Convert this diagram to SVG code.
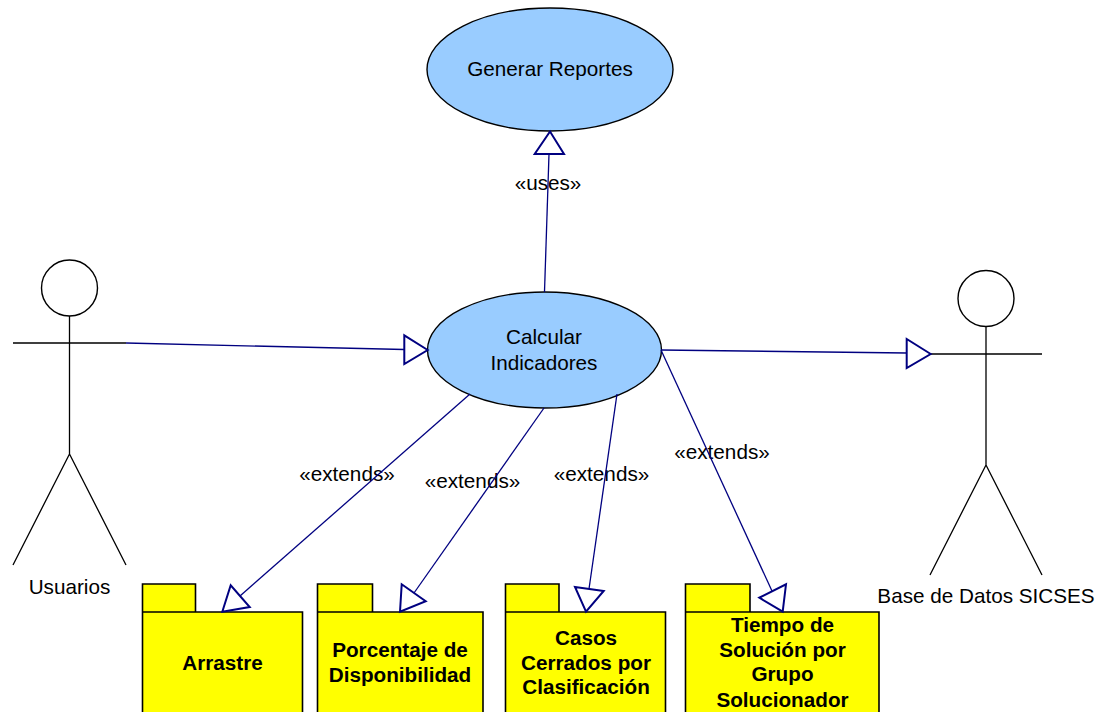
<svg xmlns="http://www.w3.org/2000/svg" width="1105" height="712" viewBox="0 0 1105 712">
<style>
text{font-family:"Liberation Sans",Arial,sans-serif;font-size:20.7px;fill:#000;text-anchor:middle}
.b{font-weight:bold}
.uc{fill:#99ccff;stroke:#000;stroke-width:1.4}
.act{fill:none;stroke:#000;stroke-width:1.3}
.head{fill:#fff;stroke:#000;stroke-width:1.4}
.pk{fill:#ffff00;stroke:none}
.pkl{fill:none;stroke:#000;stroke-width:1.6}
.c{fill:none;stroke:#000080;stroke-width:1.3}
.ah{fill:#fff;stroke:#000080;stroke-width:2}
</style>
<rect width="1105" height="712" fill="#fff"/>
<g id="node-generar"><ellipse class="uc" cx="550" cy="69.5" rx="123" ry="61.5"/><text x="550" y="76">Generar Reportes</text></g>
<g id="node-calcular"><ellipse class="uc" cx="544.5" cy="350" rx="117" ry="58"/><text x="544" y="344">Calcular</text><text x="544" y="370">Indicadores</text></g>
<g id="node-usuarios"><circle class="head" cx="69.5" cy="288" r="28"/><path class="act" d="M69.5 316V454M13 343H126M69.5 454L13 565M69.5 454L126 565"/><text x="69.5" y="594">Usuarios</text></g>
<g id="node-base"><circle class="head" cx="986" cy="298.5" r="28"/><path class="act" d="M986 326V465M930 354H1042M986 465L930 575M986 465L1042 575"/><text x="986" y="603">Base de Datos SICSES</text></g>
<g id="node-arrastre"><rect class="pk" x="142.5" y="584" width="53" height="28"/><rect class="pk" x="142.5" y="612" width="160" height="100"/><path class="pkl" d="M142.5 712V584H195.500V612M142.500 612H302.500V712"/><text class="b" x="222.500" y="670">Arrastre</text></g>
<g id="node-porcentaje"><rect class="pk" x="317.500" y="584" width="55" height="28"/><rect class="pk" x="317.500" y="612" width="165.500" height="100"/><path class="pkl" d="M317.500 712V584H372.500V612M317.500 612H483V712"/><text class="b" x="400" y="657">Porcentaje de</text><text class="b" x="400" y="682">Disponibilidad</text></g>
<g id="node-casos"><rect class="pk" x="505.500" y="584" width="53.500" height="28"/><rect class="pk" x="505.500" y="612" width="160" height="100"/><path class="pkl" d="M505.500 712V584H559V612M505.500 612H665.500V712"/><text class="b" x="586" y="645">Casos</text><text class="b" x="586" y="670">Cerrados por</text><text class="b" x="586" y="694">Clasificación</text></g>
<g id="node-tiempo"><rect class="pk" x="685.500" y="584" width="64.500" height="28"/><rect class="pk" x="685.500" y="612" width="193.500" height="100"/><path class="pkl" d="M685.500 712V584H750V612M685.500 612H879V712"/><text class="b" x="782.500" y="632">Tiempo de</text><text class="b" x="782.500" y="657">Solución por</text><text class="b" x="782.500" y="681">Grupo</text><text class="b" x="782.500" y="707">Solucionador</text></g>
<g id="labels"><text x="548" y="190">«uses»</text><text x="347" y="481">«extends»</text><text x="472.500" y="488">«extends»</text><text x="601.500" y="481">«extends»</text><text x="722" y="459">«extends»</text></g>
<g id="connectors">
<path class="c" d="M544.500 292L549 154"/><polygon class="ah" points="550,131.500 534.700,154 564,154"/>
<path class="c" d="M126 343L404.300 349.500"/><polygon class="ah" points="427.700,350 404.300,335.300 404.300,364"/>
<path class="c" d="M661 350L906.700 353"/><polygon class="ah" points="930.700,354 906.700,339 906.700,368"/>
<path class="c" d="M470 394L240 596"/><polygon class="ah" points="222.300,611.700 230.700,585.300 249.700,607"/>
<path class="c" d="M544 408L414 593"/><polygon class="ah" points="400,611.700 401.700,584.300 425.700,601.300"/>
<path class="c" d="M617 394L589 589"/><polygon class="ah" points="586,611.700 575,587 603.700,591"/>
<path class="c" d="M661 350L772 591"/><polygon class="ah" points="782.700,611.700 759.300,597.700 786,584.300"/>
</g>
</svg>
